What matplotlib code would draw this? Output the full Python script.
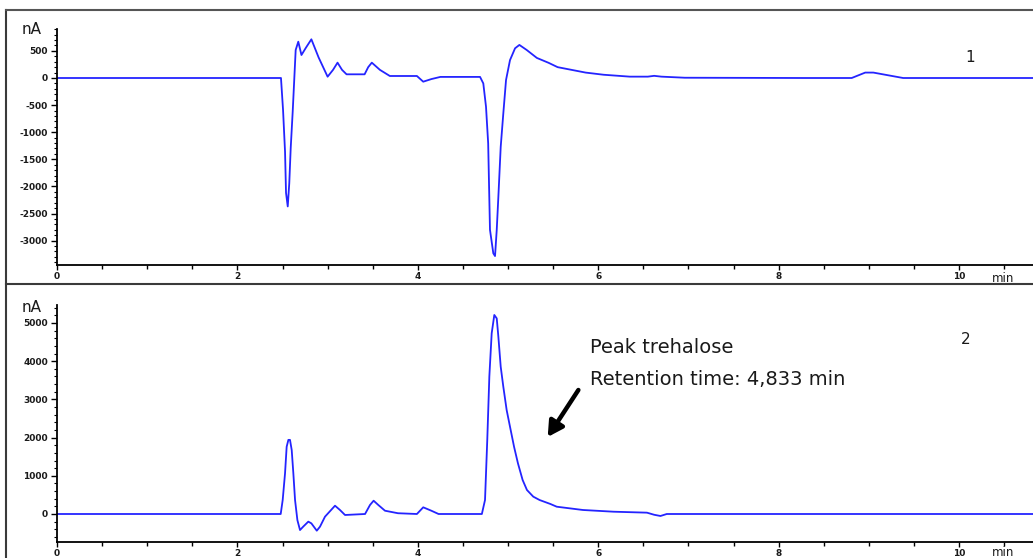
import numpy as np
import matplotlib
matplotlib.use("Agg")
import matplotlib.pyplot as plt
from matplotlib.lines import Line2D
from matplotlib.ticker import MultipleLocator

# trace 1 (blank): time [min], signal [nA]
t1 = [0, 2.483, 2.506, 2.528, 2.539, 2.558, 2.575, 2.591, 2.613, 2.631, 2.646, 2.675,
      2.71, 2.76, 2.82, 2.90, 3.00, 3.06, 3.11, 3.16, 3.21, 3.41, 3.45, 3.49, 3.58,
      3.69, 3.99, 4.06, 4.15, 4.25, 4.69, 4.726, 4.756, 4.78, 4.80, 4.837, 4.856,
      4.875, 4.893, 4.919, 4.948, 4.978, 5.022, 5.078, 5.126, 5.207, 5.32, 5.45,
      5.55, 5.86, 6.06, 6.35, 6.55, 6.62, 6.70, 6.96, 8.27, 8.81, 8.96, 9.05, 9.38, 10.9]
s1 = [0, 0, -590, -1360, -2120, -2370, -1940, -1290, -620, 0, 517, 670,
      424, 560, 714, 380, 24, 150, 283, 150, 68, 68, 200, 283, 150,
      37, 37, -68, -20, 20, 20, -100, -530, -1205, -2800, -3235, -3285,
      -2800, -2190, -1270, -650, -37, 330, 548, 610, 517, 370, 280,
      200, 100, 60, 25, 25, 40, 25, 5, 0, 0, 100, 100, 0, 0]

# trace 2 (sample)
t2 = [0, 2.48, 2.502, 2.528, 2.546, 2.565, 2.583, 2.602, 2.62, 2.639, 2.665, 2.694,
      2.73, 2.786, 2.82, 2.88, 2.916, 2.971, 3.082, 3.137, 3.193, 3.415, 3.47, 3.51,
      3.562, 3.636, 3.78, 3.99, 4.06, 4.15, 4.23, 4.71, 4.745, 4.77, 4.793, 4.819,
      4.848, 4.875, 4.893, 4.919, 4.948, 4.985, 5.022, 5.067, 5.11, 5.162, 5.21,
      5.28, 5.35, 5.47, 5.54, 5.83, 6.17, 6.54, 6.62, 6.69, 6.76, 10.9]
s2 = [0, 0, 366, 1065, 1760, 1940, 1940, 1675, 1070, 366, -160, -420,
      -330, -200, -245, -437, -330, -70, 217, 105, -26, 0, 236, 348,
      236, 86, 20, 0, 175, 86, 0, 0, 366, 1940, 3600, 4730,
      5210, 5120, 4640, 3855, 3330, 2720, 2285, 1760, 1327, 890, 628,
      454, 366, 262, 191, 105, 60, 35, -20, -52, 0, 0]

x_ticks = [0, 2, 4, 6, 8, 10]
y1_ticks = [500, 0, -500, -1000, -1500, -2000, -2500, -3000]
y2_ticks = [5000, 4000, 3000, 2000, 1000, 0]

W, H = 1033, 558
fig = plt.figure(figsize=(W / 100, H / 100), dpi=100)
blue = "#2424ff"
txt = "#1a1a1a"


def px_box(left, top, right, bottom):
    return [left / W, 1 - bottom / H, (right - left) / W, (bottom - top) / H]


ax1 = fig.add_axes(px_box(57, 29, 1033, 265))
ax2 = fig.add_axes(px_box(57, 305, 1033, 542))

for ax, t, s, yt, ylim, ystep in [(ax1, t1, s1, y1_ticks, (-3450, 904), 100),
                                  (ax2, t2, s2, y2_ticks, (-733, 5471), 200)]:
    ax.plot(t, s, color=blue, lw=1.3)
    ax.set_xlim(0, 10.82)
    ax.set_ylim(*ylim)
    ax.set_xticks(x_ticks)
    ax.set_xticklabels([str(v) for v in x_ticks])
    ax.xaxis.set_minor_locator(MultipleLocator(0.5))
    ax.set_yticks(yt)
    ax.set_yticklabels([str(v) for v in yt])
    ax.yaxis.set_minor_locator(MultipleLocator(ystep))
    for side in ["top", "right"]:
        ax.spines[side].set_visible(False)
    for side in ["left", "bottom"]:
        ax.spines[side].set_linewidth(1.3)
        ax.spines[side].set_color("black")
    ax.tick_params(axis="x", which="major", direction="out", length=3.5, width=1,
                   pad=1.5, labelsize=6.5, labelcolor=txt)
    ax.tick_params(axis="x", which="minor", direction="out", length=3, width=1)
    ax.tick_params(axis="y", which="major", direction="out", length=4.5, width=1,
                   pad=2, labelsize=6.5, labelcolor=txt)
    ax.tick_params(axis="y", which="minor", direction="out", length=2, width=0.8)
    for lab in ax.get_xticklabels() + ax.get_yticklabels():
        lab.set_fontweight("bold")
    ax.patch.set_alpha(0)

# panel numbers
ax1.text(10.12, 375, "1", fontsize=11, color=txt, ha="center", va="center")
ax2.text(10.07, 4555, "2", fontsize=11, color=txt, ha="center", va="center")

# annotation of the trehalose peak
ax2.text(5.91, 4346, "Peak trehalose", fontsize=14, color=txt, va="center")
ax2.text(5.91, 3508, "Retention time: 4,833 min", fontsize=14, color=txt, va="center")
ax2.annotate("", xy=(5.44, 2016), xytext=(5.78, 3246),
             arrowprops=dict(arrowstyle="-|>,head_length=0.9,head_width=0.5",
                             color="black", lw=3.2, shrinkA=0, shrinkB=0))

# unit labels
for y in [30, 308]:
    fig.text(32 / W, 1 - y / H, "nA", fontsize=11, color=txt, ha="center", va="center")
for y in [279, 553]:
    fig.text(1003 / W, 1 - y / H, "min", fontsize=8.5, color=txt, ha="center", va="center")

# outer frame of the exported chromatogram
frame = "#3a3a3a"
fig.add_artist(Line2D([6 / W, 6 / W], [0, 1 - 10 / H], color=frame, lw=1.5))
fig.add_artist(Line2D([6 / W, 1], [1 - 10 / H, 1 - 10 / H], color="#555555", lw=1.5))
fig.add_artist(Line2D([6 / W, 1], [1 - 284 / H, 1 - 284 / H], color=frame, lw=1.5))

fig.savefig("out.png", dpi=100, facecolor="white")
